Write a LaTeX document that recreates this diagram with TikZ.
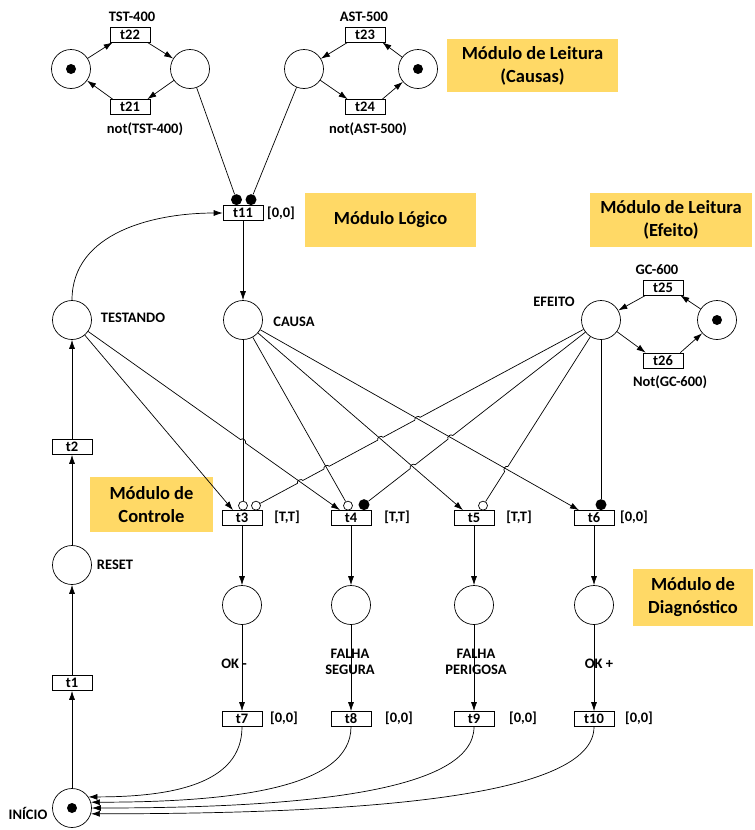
\documentclass[tikz,border=0pt]{standalone}
\usepackage{fontspec}
\setmainfont{Carlito}
\usetikzlibrary{arrows.meta,calc,intersections}
\definecolor{modfill}{RGB}{255,217,102}
\def\hoprad{3pt}
\begin{document}
\begin{tikzpicture}[x=1pt,y=-1pt,
  every node/.style={font=\fontsize{14.5}{16.5}\selectfont\bfseries},
  place/.style={circle,draw,line width=0.7pt,minimum size=39pt,inner sep=0pt},
  tok/.style={circle,fill=black,minimum size=10pt,inner sep=0pt},
  trans/.style={rectangle,draw,line width=0.7pt,minimum width=40pt,minimum height=15pt,inner sep=0pt},
  inh/.style={circle,draw,fill=white,line width=0.7pt,minimum size=9pt,inner sep=0pt},
  rd/.style={circle,fill=black,minimum size=11pt,inner sep=0pt},
  lbl/.style={inner sep=0pt},
  module/.style={fill=modfill,align=center,font=\fontsize{18.5}{23}\selectfont\bfseries,inner sep=0pt},
  ln/.style={line width=0.7pt},
  arr/.style={ln,-{Latex[length=9pt,width=6pt]}},
  hopto/.style={bend left=90,looseness=1.2},
]
\useasboundingbox (0,0) rectangle (755,830);

% module captions
\node[module,minimum width=171pt,minimum height=53pt] (mCau) at (532.5,65.5) {Módulo de Leitura\\(Causas)};
\node[module,minimum width=171pt,minimum height=54pt] (mLog) at (390.5,220) {Módulo Lógico};
\node[module,minimum width=162pt,minimum height=54pt] (mEf) at (671,220) {Módulo de Leitura\\(Efeito)};
\node[module,minimum width=123pt,minimum height=55pt] (mCtl) at (151.5,504.5) {Módulo de\\Controle};
\node[module,minimum width=120pt,minimum height=57pt] (mDia) at (693,597.5) {Módulo de\\Diagnóstico};

% reading of causes
\node[place] (pT) at (71,69) {};
\node[tok] (kT) at (pT) {};
\node[place] (pTon) at (190,69) {};
\node[place] (pAon) at (304,69) {};
\node[place] (pA) at (418,69) {};
\node[tok] (kA) at (pA) {};
\node[trans] (t22) at (130,34.5) {t22};
\node[trans] (t21) at (130,107) {t21};
\node[trans] (t23) at (365,34.5) {t23};
\node[trans] (t24) at (365,107) {t24};
\node[lbl] (lT1) at (132,17) {TST-400};
\node[lbl] (lT0) at (145,129) {not(TST-400)};
\node[lbl] (lA1) at (364,17) {AST-500};
\node[lbl] (lA0) at (368,129) {not(AST-500)};
\draw[arr] (pT) -- ([xshift=3pt]t22.south west);
\draw[arr] ([xshift=-3pt]t22.south east) -- (pTon);
\draw[arr] (pTon) -- ([xshift=-3pt]t21.north east);
\draw[arr] ([xshift=3pt]t21.north west) -- (pT);
\draw[arr] (pA) -- ([xshift=-3pt]t23.south east);
\draw[arr] ([xshift=3pt]t23.south west) -- (pAon);
\draw[arr] (pAon) -- ([xshift=3pt]t24.north west);
\draw[arr] ([xshift=-3pt]t24.north east) -- (pA);

% logic transition
\node[trans] (t11) at (243,213) {t11};
\node[lbl] (l11) at (281,213) {[0,0]};
\node[rd] (d1) at ([xshift=-6.5pt,yshift=5.5pt]t11.north) {};
\node[rd] (d2) at ([xshift=8pt,yshift=5.5pt]t11.north) {};
\draw[ln] (pTon) -- (d1);
\draw[ln] (pAon) -- (d2);

% test / cause places
\node[place] (pTest) at (72,320) {};
\node[lbl] (lTest) at (133,318) {TESTANDO};
\node[place] (pCausa) at (243,320) {};
\node[lbl] (lCausa) at (294,322) {CAUSA};
\draw[arr] (pTest.north) to[out=90,in=180] (t11.west);
\draw[arr] (t11) -- (pCausa);

% reading of effect
\node[place] (pEf) at (601,320) {};
\node[place] (pG) at (717,320) {};
\node[tok] (kG) at (pG) {};
\node[trans] (t25) at (663,287.5) {t25};
\node[trans] (t26) at (663,360.5) {t26};
\node[lbl] (lE) at (554,302) {EFEITO};
\node[lbl] (lG1) at (657,270) {GC-600};
\node[lbl] (lG0) at (670,382) {Not(GC-600)};
\draw[arr] ([xshift=3pt]t25.south west) -- (pEf);
\draw[arr] (pG) -- ([xshift=-3pt]t25.south east);
\draw[arr] (pEf) -- ([xshift=3pt]t26.north west);
\draw[arr] ([xshift=-3pt]t26.north east) -- (pG);

% reset column
\node[trans] (t2) at (72,447) {t2};
\node[place] (pReset) at (72,565) {};
\node[lbl] (lReset) at (115,565) {RESET};
\node[trans] (t1) at (72,683) {t1};
\node[place] (pIni) at (72,808) {};
\node[tok] (kI) at (pIni) {};
\node[lbl] (lIni) at (28,813) {INÍCIO};
\draw[arr] (t2) -- (pTest);
\draw[arr] (pReset) -- (t2);
\draw[arr] (t1) -- (pReset);
\draw[arr] (pIni) -- (t1);

% control transitions
\node[trans] (t3) at (242,518) {t3};
\node[trans] (t4) at (351,518) {t4};
\node[trans] (t5) at (474,518) {t5};
\node[trans] (t6) at (594,518) {t6};
\node[lbl] (l3) at (287,517) {[T,T]};
\node[lbl] (l4) at (397,517) {[T,T]};
\node[lbl] (l5) at (519,517) {[T,T]};
\node[lbl] (l6) at (634,517) {[0,0]};
\node[inh] (i3a) at ([xshift=1pt,yshift=4.5pt]t3.north) {};
\node[inh] (i3b) at ([xshift=14pt,yshift=4.5pt]t3.north) {};
\node[inh] (i4a) at ([xshift=-3pt,yshift=4.5pt]t4.north) {};
\node[rd] (i4b) at ([xshift=13pt,yshift=5.5pt]t4.north) {};
\node[inh] (i5a) at ([xshift=9pt,yshift=4.5pt]t5.north) {};
\node[rd] (i6a) at ([xshift=7pt,yshift=5.5pt]t6.north) {};
\coordinate (a3) at ([xshift=-9pt]t3.north);
\coordinate (a4) at ([xshift=-11pt]t4.north);
\coordinate (a5) at ([xshift=-11pt]t5.north);
\coordinate (a6) at ([xshift=-15pt]t6.north);

% arcs into the control transitions
\draw[arr] (pTest) -- (a3);
\path[name path=L2] (pTest) -- (a4);
\draw[ln,name path=L3] (pCausa) -- (i3a);
\draw[ln,name path=L4] (pCausa) -- (i4a);
\draw[arr,name path=L5] (pCausa) -- (a5);
\draw[arr,name path=L6] (pCausa) -- (a6);
\path[name path=L7] (i3b) -- (pEf);
\path[name path=L8] (i4b) -- (pEf);
\path[name path=L9] (i5a) -- (pEf);
\path[name intersections={of=L2 and L3,by={h23}}];
\path[name intersections={of=L7 and L2,by={h72}}];
\path[name intersections={of=L7 and L4,by={h74}}];
\path[name intersections={of=L7 and L5,by={h75}}];
\path[name intersections={of=L7 and L6,by={h76}}];
\path[name intersections={of=L8 and L5,by={h85}}];
\path[name intersections={of=L8 and L6,by={h86}}];
\path[name intersections={of=L9 and L6,by={h96}}];
\draw[arr] (pTest) -- ($(h23)!\hoprad!(pTest)$) to[hopto] ($(h23)!\hoprad!(a4)$) -- (a4);
\draw[ln] (i3b) -- ($(h72)!\hoprad!(i3b)$) to[hopto] ($(h72)!\hoprad!(pEf)$)
  -- ($(h74)!\hoprad!(i3b)$) to[hopto] ($(h74)!\hoprad!(pEf)$)
  -- ($(h75)!\hoprad!(i3b)$) to[hopto] ($(h75)!\hoprad!(pEf)$)
  -- ($(h76)!\hoprad!(i3b)$) to[hopto] ($(h76)!\hoprad!(pEf)$) -- (pEf);
\draw[ln] (i4b) -- ($(h85)!\hoprad!(i4b)$) to[hopto] ($(h85)!\hoprad!(pEf)$)
  -- ($(h86)!\hoprad!(i4b)$) to[hopto] ($(h86)!\hoprad!(pEf)$) -- (pEf);
\draw[ln] (i5a) -- ($(h96)!\hoprad!(i5a)$) to[hopto] ($(h96)!\hoprad!(pEf)$) -- (pEf);
\draw[ln] (pEf) -- (i6a);

% diagnosis places
\node[place] (pOkm) at (242,605) {};
\node[place] (pFs) at (351,605) {};
\node[place] (pFp) at (474,605) {};
\node[place] (pOkp) at (594,605) {};
\node[trans] (t7) at (242,719) {t7};
\node[trans] (t8) at (351,719) {t8};
\node[trans] (t9) at (474,719) {t9};
\node[trans] (t10) at (594,719) {t10};
\node[lbl] (l7) at (284,718) {[0,0]};
\node[lbl] (l8) at (399,718) {[0,0]};
\node[lbl] (l9) at (523,718) {[0,0]};
\node[lbl] (l10) at (639,718) {[0,0]};
\node[lbl] (lOkm) at (234,664) {OK -};
\node[lbl,align=center] (lFs) at (350,662) {FALHA\\SEGURA};
\node[lbl,align=center] (lFp) at (476,662) {FALHA\\PERIGOSA};
\node[lbl] (lOkp) at (599,664) {OK +};
\draw[arr] (t3) -- (pOkm);
\draw[arr] (t4) -- (pFs);
\draw[arr] (t5) -- (pFp);
\draw[arr] (t6) -- (pOkp);
\draw[arr] (pOkm) -- (t7);
\draw[arr] (pFs) -- (t8);
\draw[arr] (pFp) -- (t9);
\draw[arr] (pOkp) -- (t10);

% return arcs to the initial place
\draw[arr] (t7.south) .. controls +(0,57) and +(84,0) .. (pIni.34);
\draw[arr] (t8.south) .. controls +(0,61) and +(143,0) .. (pIni.17);
\draw[arr] (t9.south) .. controls +(0,65) and +(210,0) .. (pIni.0);
\draw[arr] (t10.south) .. controls +(0,70) and +(277,0) .. (pIni.-17);
\end{tikzpicture}
\end{document}
